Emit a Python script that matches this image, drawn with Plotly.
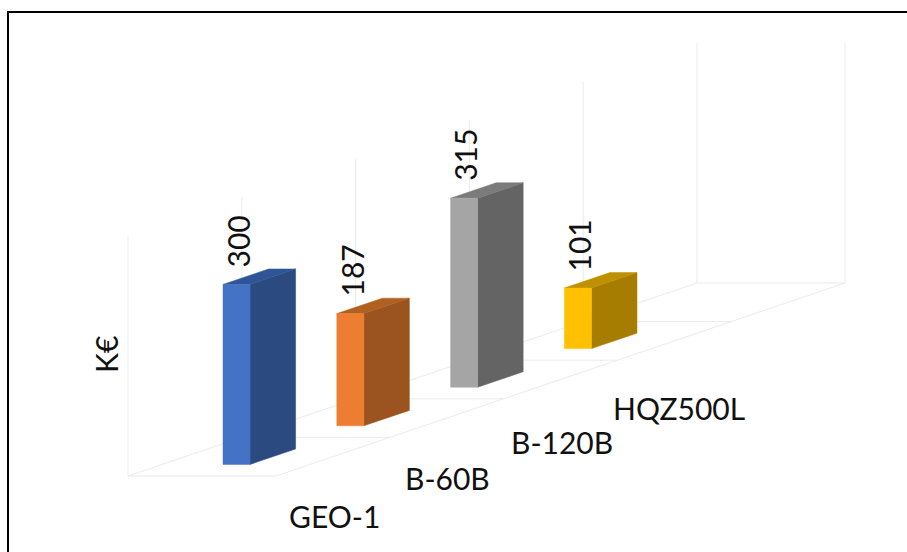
import plotly.graph_objects as go

# ---- data ----
categories = ["GEO-1", "B-60B", "B-120B", "HQZ500L"]
values = [300, 187, 315, 101]
axis_title = "K€"
axis_max = 400

# ---- styles ----
front_colors = ["#4472C4", "#ED7D31", "#A5A5A5", "#FFC000"]
side_colors = ["#2A4A80", "#9B541F", "#646464", "#A67D00"]
top_colors = ["#2F5597", "#B0601F", "#7B7B7B", "#BF9000"]
GRID = "#EBEBEB"
FONT = "Lato"
TEXT = "#111111"

# ---- oblique projection: lateral l (0-1), depth d (slots), value v -> screen ----
OX, OY = 128, 476
LAT_W = 148
DX, DY = 113.8, 38.6
VS = 240 / axis_max
SLOTS = 5


def proj(l, d, v=0):
    return OX + LAT_W * l + DX * d, OY - DY * d - VS * v


fig = go.Figure()


def line(points, color=GRID, width=1):
    xs, ys = zip(*points)
    fig.add_trace(go.Scatter(x=xs, y=ys, mode="lines", hoverinfo="skip",
                             line=dict(color=color, width=width)))


def poly(points, color):
    xs, ys = zip(*points)
    fig.add_trace(go.Scatter(x=list(xs) + [xs[0]], y=list(ys) + [ys[0]], mode="lines",
                             fill="toself", fillcolor=color, hoverinfo="skip",
                             line=dict(color=color, width=0.5)))


# chart frame (picture edge of the pasted chart)
line([(8, 552), (8, 12), (907, 12)], color="#000000", width=2)

# floor and walls
line([proj(0, 0), proj(1, 0), proj(1, SLOTS), proj(0, SLOTS), proj(0, 0)])
for d in range(1, SLOTS):
    line([proj(0, d), proj(1, d)])
for d in range(SLOTS + 1):
    line([proj(0, d), proj(0, d, axis_max)])
line([proj(1, SLOTS), proj(1, SLOTS, axis_max)])

# bars
L0, L1 = 0.4113, 0.594
D0, D1 = 0.3, 0.7
for i, v in enumerate(values):
    d0, d1 = i + D0, i + D1
    poly([proj(L1, d0), proj(L1, d1), proj(L1, d1, v), proj(L1, d0, v)], side_colors[i])
    poly([proj(L0, d0, v), proj(L1, d0, v), proj(L1, d1, v), proj(L0, d1, v)], top_colors[i])
    poly([proj(L0, d0), proj(L1, d0), proj(L1, d0, v), proj(L0, d0, v)], front_colors[i])

    x, y = proj(L0, d0, v)
    fig.add_annotation(x=x + 15, y=y - 43, text=str(v), textangle=-90, showarrow=False,
                       font=dict(family=FONT, size=30, color=TEXT),
                       xanchor="center", yanchor="middle")

# category labels
label_dx = [2, 0.5, 1, 5]
label_dy = [59, 60, 62, 67]
for i, c in enumerate(categories):
    x, y = proj(1, i + 0.5)
    fig.add_annotation(x=x + label_dx[i], y=y + label_dy[i], text=c, showarrow=False,
                       font=dict(family=FONT, size=30, color=TEXT),
                       xanchor="center", yanchor="middle")

# value axis title
fig.add_annotation(x=106, y=355, text=axis_title, textangle=-90, showarrow=False,
                   font=dict(family=FONT, size=30, color=TEXT),
                   xanchor="center", yanchor="middle")

fig.update_layout(
    width=907, height=552, margin=dict(l=0, r=0, t=0, b=0),
    paper_bgcolor="white", plot_bgcolor="white", showlegend=False,
    xaxis=dict(range=[0, 907], visible=False, fixedrange=True),
    yaxis=dict(range=[552, 0], visible=False, fixedrange=True),
)
fig.write_html("out.html", config={"displayModeBar": False},
               post_script="document.body.style.margin='0';document.body.style.overflow='hidden';")
